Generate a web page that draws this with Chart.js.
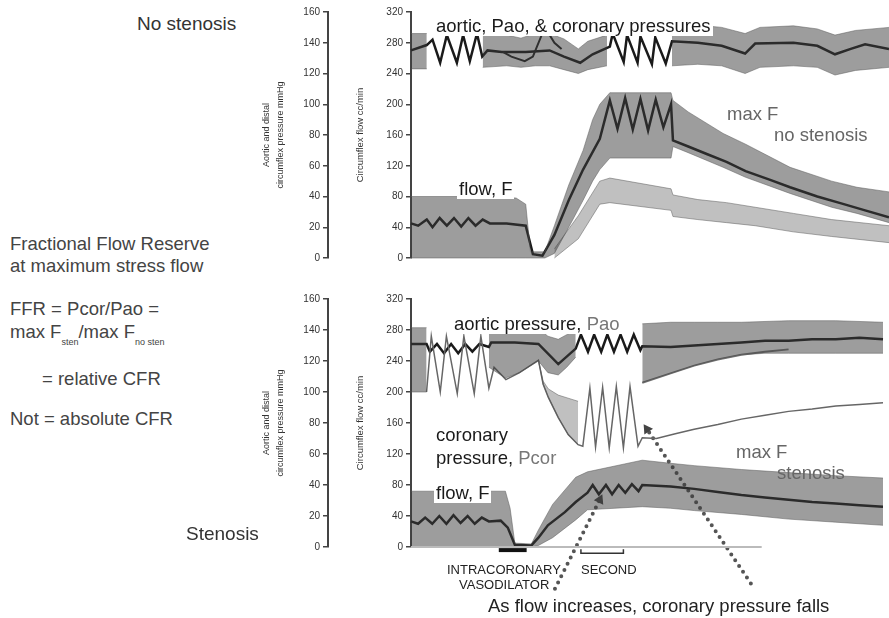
<!DOCTYPE html>
<html>
<head>
<meta charset="utf-8">
<script src="https://cdn.jsdelivr.net/npm/chart.js@4.4.1/dist/chart.umd.min.js"></script>
<style>
  body { margin: 0; background: #fff; width: 889px; height: 618px; overflow: hidden; position: relative;
         font-family: "Liberation Sans", Arial, Helvetica, sans-serif; }
  canvas { position: absolute; }
  .t { position: absolute; white-space: nowrap; line-height: 1; font-size: 18.5px; color: #444; }
  .w { background: #fff; padding: 0 2px; }
  .g { color: #777; }
  .s { font-size: 13px; color: #222; }
  .sub { font-size: 9px; position: relative; top: 7px; }
</style>
</head>
<body>
<canvas id="topChart" width="649" height="272" style="left:240px;top:0px"></canvas>
<canvas id="botChart" width="649" height="333" style="left:240px;top:285px"></canvas>

<div class="t" style="left:137px;top:14px;font-size:19px;color:#333">No stenosis</div>
<div class="t" style="left:186px;top:524px;font-size:19px;color:#333">Stenosis</div>

<div class="t" style="left:10px;top:235px">Fractional Flow Reserve</div>
<div class="t" style="left:10px;top:257px">at maximum stress flow</div>
<div class="t" style="left:10px;top:300px">FFR = Pcor/Pao =</div>
<div class="t" style="left:10px;top:323px">max F<span class="sub">sten</span>/max F<span class="sub">no sten</span></div>
<div class="t" style="left:42px;top:370px">= relative CFR</div>
<div class="t" style="left:10px;top:410px">Not = absolute CFR</div>

<div class="t w" style="left:434px;top:17px;color:#1a1a1a">aortic, Pao, &amp; coronary pressures</div>
<div class="t w" style="left:457px;top:180px;color:#1a1a1a">flow, F</div>
<div class="t w" style="left:725px;top:105px;color:#666">max F</div>
<div class="t" style="left:774px;top:126px;color:#666">no stenosis</div>

<div class="t w" style="left:452px;top:315px;color:#1a1a1a">aortic pressure, <span class="g">Pao</span></div>
<div class="t w" style="left:434px;top:426px;color:#1a1a1a">coronary</div>
<div class="t w" style="left:434px;top:449px;color:#1a1a1a">pressure, <span class="g">Pcor</span></div>
<div class="t w" style="left:434px;top:484px;color:#1a1a1a">flow, F</div>
<div class="t w" style="left:734px;top:443px;color:#666">max F</div>
<div class="t" style="left:777px;top:464px;color:#666">stenosis</div>

<div class="t s" style="left:447px;top:563px">INTRACORONARY</div>
<div class="t s" style="left:459px;top:578px">VASODILATOR</div>
<div class="t s" style="left:581px;top:563px">SECOND</div>
<div class="t" style="left:488px;top:597px;color:#222">As flow increases, coronary pressure falls</div>

<script>
// time axis runs 0..100 across the recording, values on the 0..320 flow scale

// ---- top panel: no stenosis ----
const topPressT  = [0, 3.3, 9, 15, 20, 23, 26, 29, 32, 35, 37, 41, 48, 54.6, 60, 65, 69.9, 73, 80, 85, 88.7, 93, 100];
const topPressHi = [292, 292, null, 290, 290, 286, 292, 292, 285, 272, 282, 290, null, 302, 303, 300, 292, 300, 302, 298, 290, 296, 300];
const topPressLo = [246, 246, null, 248, 250, 248, 250, 250, 245, 240, 245, 250, null, 250, 252, 250, 240, 248, 250, 248, 238, 244, 248];

const topPaoT = [0, 3.3, 4.5, 6.1, 7.5, 9.6, 10.9, 12.3, 13.8, 14.9, 16, 19, 24, 29, 32, 35.4, 38, 41.6,
                 42.2, 44.5, 45.2, 47.4, 48, 50.4, 51.1, 53.3, 54.6, 60, 65, 69.9, 72, 80, 85, 88.7, 92, 95, 100];
const topPao  = [270, 277, 284, 254, 290, 254, 290, 256, 292, 262, 270, 268, 268, 270, 262, 254, 265, 275,
                 292, 255, 290, 254, 288, 252, 287, 253, 282, 280, 276, 266, 279, 280, 276, 265, 272, 278, 272];

const topPcorT = [19.2, 21, 23.8, 25.5, 27.6, 29, 30, 31.5];
const topPcor  = [268, 262, 256, 262, 294, 290, 280, 272];

const topFlowT = [0, 1.5, 3.3, 4.5, 6, 7.5, 9, 10.5, 12, 13.5, 15, 16.5, 20, 24, 25.5, 27.5, 30, 33, 36, 39.5,
                  41.6, 43.2, 44.8, 46.4, 48, 49.6, 51.2, 52.8, 54.4, 54.8, 58, 62, 66, 70, 75, 79.3, 85, 90, 95, 100];
const topFlow  = [45, 42, 50, 40, 52, 42, 52, 41, 52, 42, 50, 45, 45, 42, 5, 3, 30, 75, 115, 155,
                  205, 168, 208, 167, 207, 166, 206, 170, 200, 153, 145, 135, 125, 113, 102, 92, 80, 71, 62, 53];

const topFlowBandT  = [0, 16.5, 22, 24, 25, 28, 30, 33, 36, 38, 39.5, 41.6, 54.4, 54.8, 58, 65.3, 70, 79.3, 88, 93.3, 100];
const topFlowBandHi = [80, 80, 78, 70, 8, 8, 42, 95, 140, 180, 200, 215, 215, 205, 190, 162, 148, 118, 100, 92, 86];
const topFlowBandLo = [0, 0, 0, 0, 0, 0, 6, 40, 75, 100, 115, 130, 130, 145, 137, 118, 105, 84, 66, 58, 46];

const topFlow2T  = [30, 35, 39.5, 41.6, 54.4, 54.8, 60, 66, 72, 80, 88, 100];
const topFlow2Hi = [12, 55, 100, 104, 90, 82, 76, 72, 66, 58, 50, 42];
const topFlow2Lo = [0, 25, 70, 72, 62, 54, 50, 46, 42, 34, 28, 20];

// ---- bottom panel: stenosis ----
const botPressT  = [0, 3.3, 9, 16.5, 20, 23, 27, 29, 31.2, 33, 34.9, 42, 49, 55, 60, 65, 70, 75, 80, 90, 100];
const botPressHi = [283, 283, null, 282, 282, 282, 282, 272, 268, 274, 280, null, 288, 290, 290, 290, 290, 291, 292, 292, 290];
const botPressLo = [200, 200, null, 232, 218, 225, 240, 225, 222, 232, 245, null, 212, 224, 234, 242, 248, 250, 250, 250, 250];

const botPaoT = [0, 3.3, 4, 5.5, 7, 8.5, 10, 11.5, 13, 14.5, 16.5, 17, 22, 27, 31.2, 34.9,
                 36, 37.5, 38.8, 40.3, 41.6, 43, 44.4, 45.8, 47.2, 48.6, 49, 55, 60, 65, 70, 75, 80, 85, 90, 95, 100];
const botPao  = [262, 262, 252, 262, 250, 262, 250, 262, 252, 262, 258, 264, 264, 262, 236, 256,
                 274, 252, 274, 252, 274, 252, 274, 252, 274, 254, 259, 258, 260, 262, 264, 266, 266, 268, 268, 270, 268];

const botPcorT = [3.3, 4.3, 6.2, 7.5, 9.8, 11.2, 13.4, 14.8, 16.5, 17.6, 20.1, 23, 27, 28, 29.1, 31.2, 33.3, 35.4,
                  36.4, 37.9, 39.1, 40.6, 42, 43.5, 45, 46.4, 48.1, 49, 52, 56, 60, 65, 70, 75, 80, 85, 90, 95, 100];
const botPcor  = [200, 272, 200, 272, 198, 272, 198, 272, 205, 232, 216, 225, 241, 210, 193, 167, 145, 132,
                  130, 205, 129, 206, 128, 207, 128, 207, 130, 141, 140, 146, 152, 158, 165, 170, 175, 178, 182, 184, 186];

const botPcorBandT  = [27, 28, 29.1, 31.2, 33.3, 35.4];
const botPcorBandHi = [241, 214, 204, 196, 192, 188];
const botPcorBandLo = [241, 210, 193, 167, 145, 132];

const botPcorSysT = [49, 55, 60, 65, 70, 75, 80];
const botPcorSys  = [212, 224, 234, 242, 248, 252, 255];

const botFlowT = [0, 1.5, 3, 4.5, 6, 7.5, 9, 10.5, 12, 13.5, 15, 16.5, 19, 20.5, 22, 25.5, 27, 29, 32.6, 34.9, 37.4,
                  38.5, 39.8, 41.3, 42.6, 44, 45.4, 46.8, 48.2, 49, 55, 60, 65, 70, 75, 80, 85, 90, 95, 100];
const botFlow  = [33, 30, 38, 30, 40, 30, 41, 31, 40, 30, 38, 33, 34, 25, 3, 2, 12, 28, 45, 58, 70,
                  80, 68, 80, 68, 80, 70, 81, 72, 80, 78, 75, 71, 67, 64, 61, 58, 56, 54, 52];

const botFlowBandT  = [0, 20, 21, 22, 25.5, 27, 30, 34.9, 37.4, 49, 55, 60, 70, 80, 90, 100];
const botFlowBandHi = [72, 72, 50, 5, 4, 22, 55, 90, 97, 112, 108, 105, 100, 96, 92, 89];
const botFlowBandLo = [0, 0, 0, 0, 0, 2, 12, 35, 48, 52, 50, 47, 42, 36, 32, 28];

// recorder marks below the bottom trace
const zeroT = [0, 74.3];
const zeroV = [0, 0];
const vasoT = [18.6, 24.5];
const vasoV = [-4, -4];
const secT = [36, 36, 45, 45];
const secV = [-3, -8, -8, -3];
const arrowFlowT = [30.5, 40];
const arrowFlowV = [-54, 61];
const arrowPcorT = [72, 50];
const arrowPcorV = [-47, 152];

const FONT = '"Liberation Sans", Arial, sans-serif';

function pts(t, v) {
    return t.map((x, i) => ({x: x, y: v[i]}));
}

function line(t, v, color, width, extra) {
    return Object.assign({
        data: pts(t, v), borderColor: color, borderWidth: width,
        pointRadius: 0, fill: false, tension: 0, clip: false
    }, extra || {});
}

function band(t, hi, lo, color) {
    return [
        {data: pts(t, hi), borderColor: 'rgba(90,90,90,0.5)', borderWidth: 1, pointRadius: 0, fill: false, tension: 0, clip: false},
        {data: pts(t, lo), borderColor: 'rgba(90,90,90,0.5)', borderWidth: 1, pointRadius: 0, fill: '-1', backgroundColor: color, tension: 0, clip: false}
    ];
}

function arrow(t, v, rot) {
    return line(t, v, '#555', 4, {
        borderDash: [0, 7], borderCapStyle: 'round',
        pointRadius: [0, 6], pointStyle: 'triangle', pointRotation: rot,
        pointBackgroundColor: '#444', pointBorderWidth: 0
    });
}

function makeScales() {
    return {
        x: {type: 'linear', min: 0, max: 100, display: false},
        y: {
            position: 'left', weight: 0, min: 0, max: 320,
            afterFit: function(s) { s.width = 83; },
            ticks: {stepSize: 40, color: '#333', padding: 3, font: {size: 10, family: FONT}},
            grid: {drawOnChartArea: false, tickLength: 5, color: '#444', lineWidth: 1.5},
            border: {display: true, color: '#444', width: 2},
            title: {display: true, text: 'Circumflex flow cc/min', color: '#333',
                    font: {size: 9.5, family: FONT}, padding: {top: 27, bottom: 0}}
        },
        yP: {
            position: 'left', weight: 1, min: 0, max: 160,
            afterFit: function(s) { s.width = 88; },
            ticks: {stepSize: 20, color: '#333', padding: 3, font: {size: 10, family: FONT}},
            grid: {drawOnChartArea: false, tickLength: 5, color: '#444', lineWidth: 1.5},
            border: {display: true, color: '#444', width: 2},
            title: {display: true, text: ['Aortic and distal', 'circumflex pressure mmHg'], color: '#333',
                    font: {size: 9, family: FONT, lineHeight: 1.6}, padding: {top: 19, bottom: 0}}
        }
    };
}

function makeChart(id, datasets, pad) {
    return new Chart(document.getElementById(id), {
        type: 'line',
        data: {datasets: datasets},
        options: {
            responsive: false, animation: false, devicePixelRatio: 1,
            layout: {padding: pad},
            plugins: {legend: {display: false}, tooltip: {enabled: false}},
            scales: makeScales()
        }
    });
}

const BAND = 'rgba(60,60,60,0.5)';
const BAND_LIGHT = 'rgba(80,80,80,0.36)';

let topSets = [];
topSets = topSets.concat(band(topPressT, topPressHi, topPressLo, BAND));
topSets = topSets.concat(band(topFlowBandT, topFlowBandHi, topFlowBandLo, BAND));
topSets = topSets.concat(band(topFlow2T, topFlow2Hi, topFlow2Lo, BAND_LIGHT));
topSets.push(line(topPcorT, topPcor, '#222', 2));
topSets.push(line(topPaoT, topPao, '#1a1a1a', 2.5));
topSets.push(line(topFlowT, topFlow, '#1a1a1a', 2.5));

let botSets = [];
botSets.push(line(zeroT, zeroV, '#bbb', 2));
botSets = botSets.concat(band(botPressT, botPressHi, botPressLo, BAND));
botSets = botSets.concat(band(botPcorBandT, botPcorBandHi, botPcorBandLo, BAND_LIGHT));
botSets = botSets.concat(band(botFlowBandT, botFlowBandHi, botFlowBandLo, BAND));
botSets.push(line(botPcorSysT, botPcorSys, '#777', 2));
botSets.push(line(botPcorT, botPcor, '#666', 1.5));
botSets.push(line(botPaoT, botPao, '#1a1a1a', 2.5));
botSets.push(line(botFlowT, botFlow, '#1a1a1a', 2.5));
botSets.push(line(vasoT, vasoV, '#111', 4));
botSets.push(line(secT, secV, '#333', 1.5));
botSets.push(arrow(arrowFlowT, arrowFlowV, 25));
botSets.push(arrow(arrowPcorT, arrowPcorV, -34));

makeChart('topChart', topSets, {top: 12, bottom: 14, left: 0, right: 0});
makeChart('botChart', botSets, {top: 14, bottom: 71, left: 0, right: 0});
</script>
</body>
</html>
